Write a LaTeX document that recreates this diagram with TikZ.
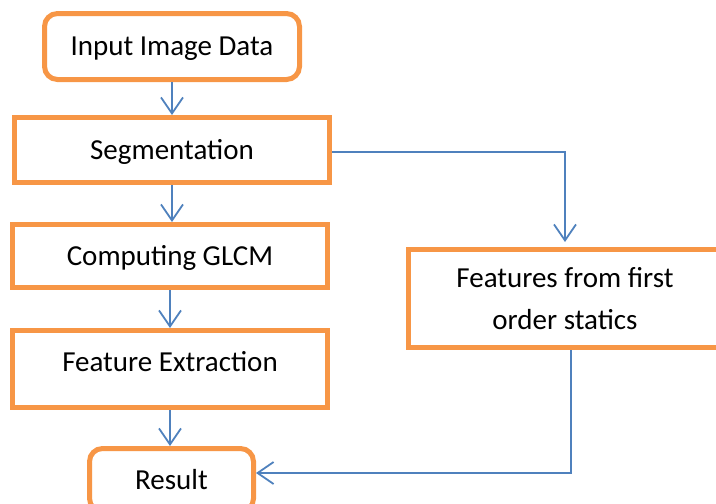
\documentclass[tikz,border=0pt]{standalone}
\usepackage{fontspec}
\setmainfont{Carlito}
\usetikzlibrary{arrows.meta}
\definecolor{orng}{HTML}{F79646}
\definecolor{blu}{HTML}{4F81BD}
\begin{document}
\begin{tikzpicture}[x=1pt,y=-1pt,
  box/.style={draw=orng,line width=5pt,fill=white,inner sep=0pt,
    font=\fontsize{29}{42}\selectfont,align=center},
  oneline/.style={text height=18.6pt,text depth=0pt},
  rbox/.style={box,rounded corners=13pt},
  conn/.style={draw=blu,line width=1.8pt,-{Straight Barb[length=16pt,width=22pt]}}]
\useasboundingbox (0,0) rectangle (716,504);
\node[rbox,oneline,minimum width=255pt,minimum height=66pt] (in) at (172,46.5) {Input Image Data};
\node[box,oneline,minimum width=315pt,minimum height=65pt] (seg) at (172,150) {Segmentation};
\node[box,oneline,minimum width=315pt,minimum height=63pt] (glcm) at (170,256) {Computing GLCM};
\node[box,text height=4.6pt,text depth=0pt,minimum width=315pt,minimum height=77pt] (fe) at (170,369) {Feature Extraction};
\node[rbox,oneline,minimum width=164pt,minimum height=63pt] (res) at (171.5,480) {Result};
\node[box,minimum width=313pt,minimum height=98pt] (feat) at (565,298.5) {Features from first\\order statics};
\draw[conn] (in.south) -- (in.south |- seg.north);
\draw[conn] (seg.south) -- (seg.south |- glcm.north);
\draw[conn] (glcm.south) -- (glcm.south |- fe.north);
\draw[conn] (fe.south) -- (fe.south |- res.north);
\draw[conn,shorten >=5pt] ([yshift=-2pt]seg.east) -| (feat.north);
\draw[conn] ([xshift=6pt]feat.south) |- ([yshift=7pt]res.east);
\end{tikzpicture}
\end{document}
